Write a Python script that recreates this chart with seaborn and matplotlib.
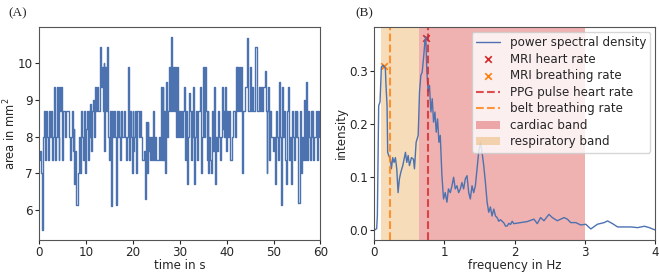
import numpy as np
import matplotlib
matplotlib.use("Agg")
import matplotlib.pyplot as plt
import seaborn as sns
import pandas as pd

# ---------------- data ----------------
# (A) pupil/area time series, 5 samples per second
area_values = [
    7.37, 7.6, 7.0, 5.45, 8.0,
    8.0, 8.7, 7.37, 8.7, 8.0,
    7.37, 8.7, 8.0, 8.7, 7.37,
    8.0, 9.35, 7.37, 8.0, 9.35,
    8.0, 7.37, 9.35, 8.7, 9.35,
    7.37, 8.7, 8.7, 8.0, 8.7,
    8.7, 8.7, 8.0, 7.37, 8.0,
    8.7, 7.6, 8.2, 6.7, 7.6,
    6.15, 6.15, 7.0, 8.0, 7.0,
    8.7, 8.0, 7.37, 8.7, 7.0,
    8.2, 8.7, 7.37, 8.7, 8.0,
    8.9, 7.6, 8.7, 9.0, 8.0,
    9.35, 8.7, 9.35, 8.7, 8.7,
    10.45, 9.35, 9.9, 8.7, 10.0,
    7.6, 9.9, 8.7, 10.45, 8.0,
    7.37, 8.7, 6.1, 8.7, 8.0,
    8.7, 8.0, 6.15, 8.7, 8.0,
    8.7, 8.0, 7.37, 8.7, 8.0,
    8.0, 8.7, 8.0, 7.37, 8.0,
    9.9, 7.37, 8.7, 8.0, 7.0,
    8.7, 7.6, 8.0, 8.7, 7.0,
    8.7, 8.7, 8.0, 8.7, 8.0,
    7.37, 7.37, 7.6, 6.3, 8.4,
    7.0, 8.4, 7.6, 8.0, 7.37,
    8.0, 7.37, 8.7, 7.37, 8.0,
    7.37, 7.37, 7.37, 8.0, 7.37,
    9.35, 7.37, 9.35, 7.37, 8.7,
    7.0, 9.5, 8.0, 8.7, 9.9,
    8.7, 10.73, 8.7, 9.9, 8.7,
    9.9, 8.0, 9.9, 8.7, 8.0,
    8.7, 8.0, 8.7, 8.0, 8.7,
    9.35, 7.37, 8.7, 6.7, 8.0,
    9.2, 8.7, 7.37, 8.7, 8.0,
    9.35, 6.7, 8.0, 8.7, 7.37,
    8.7, 8.7, 9.35, 7.0, 8.0,
    9.9, 8.0, 9.9, 8.7, 7.37,
    8.7, 7.0, 8.0, 7.37, 7.0,
    8.7, 7.6, 9.35, 6.7, 8.0,
    7.6, 8.7, 8.0, 7.37, 8.0,
    9.35, 8.2, 8.7, 8.0, 9.35,
    7.6, 8.7, 8.0, 8.7, 7.37,
    7.37, 8.0, 8.7, 8.7, 8.0,
    9.9, 8.7, 9.9, 8.7, 9.9,
    8.7, 9.9, 7.0, 8.7, 8.7,
    9.35, 9.35, 10.7, 8.7, 8.7,
    9.9, 8.7, 9.35, 9.35, 8.7,
    8.7, 10.45, 10.45, 8.7, 8.7,
    9.35, 8.7, 9.35, 8.7, 9.35,
    9.35, 9.8, 8.7, 7.0, 8.7,
    9.35, 7.37, 8.7, 8.0, 8.0,
    7.6, 8.0, 6.7, 8.7, 8.0,
    7.37, 9.5, 8.0, 6.15, 7.0,
    9.35, 8.0, 8.7, 7.37, 6.7,
    8.7, 9.35, 7.37, 8.0, 6.7,
    8.7, 8.0, 7.37, 8.7, 8.0,
    8.7, 8.0, 6.2, 6.2, 8.7,
    7.0, 8.0, 7.37, 9.0, 7.37,
    9.5, 7.37, 8.7, 8.0, 7.37,
    8.7, 8.0, 8.7, 7.37, 8.0,
    8.0, 8.7, 7.37, 8.7, 8.0,
]
sample_rate_hz = 5.0

# (B) power spectral density
psd_freq = [
    0.0, 0.038, 0.048, 0.067, 0.086, 0.105, 0.133, 0.162, 0.171, 0.186,
    0.195, 0.21, 0.233, 0.248, 0.267, 0.286, 0.305, 0.324, 0.343, 0.362,
    0.381, 0.41, 0.448, 0.467, 0.486, 0.505, 0.533, 0.562, 0.576, 0.6,
    0.629, 0.648, 0.667, 0.686, 0.705, 0.724, 0.738, 0.752, 0.771, 0.79,
    0.81, 0.829, 0.848, 0.867, 0.886, 0.905, 0.924, 0.943, 0.967, 0.99,
    1.014, 1.038, 1.06, 1.086, 1.11, 1.133, 1.157, 1.18, 1.205, 1.229,
    1.252, 1.276, 1.3, 1.324, 1.348, 1.371, 1.395, 1.419, 1.443, 1.467,
    1.49, 1.514, 1.538, 1.562, 1.586, 1.61, 1.633, 1.657, 1.68, 1.705,
    1.729, 1.752, 1.776, 1.8, 1.824, 1.848, 1.871, 1.895, 1.919, 1.943,
    1.967, 1.99, 2.086, 2.18, 2.276, 2.324, 2.371, 2.419, 2.49, 2.538,
    2.61, 2.705, 2.752, 2.8, 2.871, 2.943, 3.014, 3.086, 3.18, 3.276,
    3.324, 3.395, 3.467, 3.562, 3.657, 3.752, 3.848, 3.919, 4.0,
]
psd_values = [
    0.0, 0.003, 0.027, 0.235, 0.242, 0.308, 0.311, 0.305, 0.273, 0.235,
    0.147, 0.141, 0.134, 0.116, 0.137, 0.128, 0.137, 0.116, 0.071, 0.097,
    0.109, 0.122, 0.147, 0.128, 0.141, 0.122, 0.137, 0.134, 0.116, 0.166,
    0.179, 0.261, 0.292, 0.298, 0.324, 0.355, 0.365, 0.300, 0.261, 0.273,
    0.223, 0.248, 0.204, 0.223, 0.185, 0.210, 0.166, 0.179, 0.103, 0.059,
    0.071, 0.053, 0.078, 0.071, 0.084, 0.100, 0.078, 0.084, 0.071, 0.078,
    0.090, 0.078, 0.097, 0.103, 0.071, 0.059, 0.084, 0.071, 0.084, 0.116,
    0.147, 0.166, 0.147, 0.122, 0.090, 0.053, 0.034, 0.044, 0.027, 0.040,
    0.027, 0.024, 0.017, 0.020, 0.017, 0.014, 0.008, 0.008, 0.013, 0.011,
    0.017, 0.0125, 0.0145, 0.0164, 0.021, 0.0125, 0.024, 0.018, 0.030, 0.024,
    0.018, 0.024, 0.021, 0.0145, 0.0145, 0.010, 0.0114, 0.0025, 0.0114, 0.0145,
    0.0177, 0.0125, 0.0063, 0.0063, 0.0063, 0.005, 0.0076, 0.005, 0.0006,
]

mri_heart_freq = [0.738]
mri_heart_val = [0.362]
mri_breath_freq = [0.143]
mri_breath_val = [0.310]
ppg_heart_freq = 0.767
belt_breath_freq = 0.233
cardiac_band = (0.643, 3.0)
respiratory_band = (0.10, 0.643)

# ---------------- plot ----------------
sns.set_style("ticks")
plt.rcParams["font.family"] = ["DejaVu Sans"]
fs = 8.6

fig = plt.figure(figsize=(6.59, 2.73), dpi=100)
ax1 = fig.add_axes([0.0597, 0.121, 0.4265, 0.780])
ax2 = fig.add_axes([0.5675, 0.121, 0.4265, 0.780])

blue = "#4C72B0"
red = "tab:red"
orange = "tab:orange"

# Panel A
df_a = pd.DataFrame({"t": np.arange(len(area_values)) / sample_rate_hz,
                     "area": area_values})
sns.lineplot(data=df_a, x="t", y="area", ax=ax1, color=blue, lw=1.0,
             drawstyle="steps-mid")
ax1.set_xlim(0, 60)
ax1.set_xticks([0, 10, 20, 30, 40, 50, 60])
ax1.set_yticks([6, 7, 8, 9, 10])
ax1.set_xlabel("time in s", fontsize=fs, labelpad=0)
ax1.set_ylabel("area in mm$^2$", fontsize=8.3, labelpad=0)

# Panel B
ax2.axvspan(*cardiac_band, color=red, alpha=0.36, lw=0, label="cardiac band")
ax2.axvspan(*respiratory_band, color="#E69628", alpha=0.33, lw=0,
            label="respiratory band")
df_b = pd.DataFrame({"f": psd_freq, "p": psd_values})
sns.lineplot(data=df_b, x="f", y="p", ax=ax2, color=blue, lw=1.0,
             label="power spectral density")
sns.scatterplot(x=mri_heart_freq, y=mri_heart_val, ax=ax2, marker="x",
                color=red, s=22, linewidth=1.2, label="MRI heart rate")
sns.scatterplot(x=mri_breath_freq, y=mri_breath_val, ax=ax2, marker="x",
                color=orange, s=22, linewidth=1.2, label="MRI breathing rate")
ax2.axvline(ppg_heart_freq, color=red, ls="--", lw=1.5, alpha=0.8,
            label="PPG pulse heart rate")
ax2.axvline(belt_breath_freq, color=orange, ls="--", lw=1.5, alpha=0.8,
            label="belt breathing rate")
ax2.set_xlim(0, 4)
ax2.set_xticks([0, 1, 2, 3, 4])
ax2.set_yticks([0.0, 0.1, 0.2, 0.3])
ax2.set_xlabel("frequency in Hz", fontsize=fs, labelpad=0)
ax2.set_ylabel("intensity", fontsize=fs, labelpad=1)

handles, labels = ax2.get_legend_handles_labels()
order = ["power spectral density", "MRI heart rate", "MRI breathing rate",
         "PPG pulse heart rate", "belt breathing rate", "cardiac band",
         "respiratory band"]
hmap = dict(zip(labels, handles))
ax2.legend([hmap[k] for k in order], order, loc="upper right", fontsize=fs,
           frameon=True, framealpha=0.8, borderaxespad=0.4,
           handlelength=2.0, labelspacing=0.3, borderpad=0.35)

for ax in (ax1, ax2):
    ax.tick_params(labelsize=fs, length=3, width=0.8, pad=1.5)
    for sp in ax.spines.values():
        sp.set_color("#555555")
        sp.set_linewidth(0.8)
        sp.set_visible(True)

fig.text(0.012, 0.975, "(A)", fontsize=9.5, family="Liberation Serif",
         va="top", ha="left")
fig.text(0.539, 0.975, "(B)", fontsize=9.5, family="Liberation Serif",
         va="top", ha="left")

fig.savefig("out.png", dpi=100)
